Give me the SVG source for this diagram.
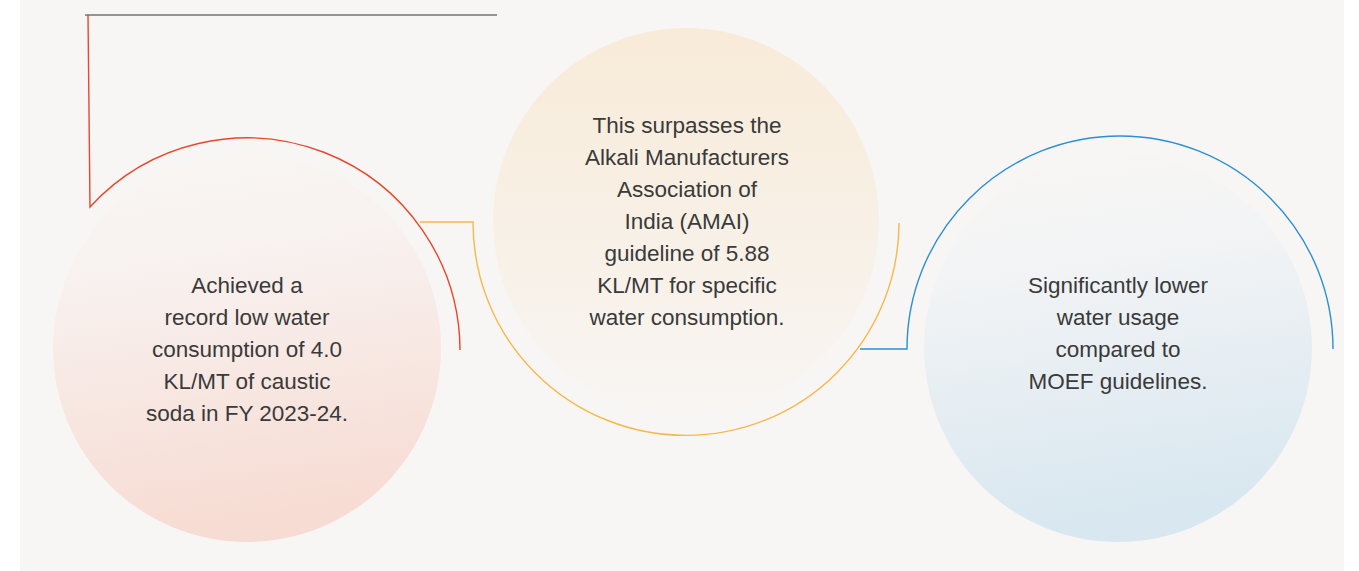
<svg xmlns="http://www.w3.org/2000/svg" width="1359" height="571" viewBox="0 0 1359 571">
<defs>
<linearGradient id="gRed" x1="0" y1="0" x2="0.15" y2="1"><stop offset="0" stop-color="#f8f6f4"/><stop offset="0.3" stop-color="#f8f2f0"/><stop offset="1" stop-color="#f7dcd3"/></linearGradient>
<linearGradient id="gOrg" x1="0" y1="0" x2="0" y2="1"><stop offset="0" stop-color="#f8ebd8"/><stop offset="1" stop-color="#f8f5f3"/></linearGradient>
<linearGradient id="gBlu" x1="0" y1="0" x2="0.15" y2="1"><stop offset="0" stop-color="#f8f6f4"/><stop offset="0.3" stop-color="#f3f4f5"/><stop offset="1" stop-color="#d8e7f0"/></linearGradient>
<style>
.t{font-family:"Liberation Sans",Arial,sans-serif;font-size:22.5px;fill:#3a3a3a;text-anchor:middle}
.c{fill:none;stroke-width:1.4}
</style>
</defs>
<rect x="0" y="0" width="1359" height="571" fill="#ffffff"/>
<rect x="20" y="0" width="1324" height="571" fill="#f8f6f4"/>
<g id="node-left">
<circle cx="247" cy="348" r="194" fill="url(#gRed)"/>
<text class="t"><tspan x="247" y="293">Achieved a</tspan><tspan x="247" y="325">record low water</tspan><tspan x="247" y="357">consumption of 4.0</tspan><tspan x="247" y="389">KL/MT of caustic</tspan><tspan x="247" y="421">soda in FY 2023-24.</tspan></text>
</g>
<g id="node-middle">
<circle cx="686" cy="221" r="193" fill="url(#gOrg)"/>
<text class="t"><tspan x="687" y="133">This surpasses the</tspan><tspan x="687" y="165">Alkali Manufacturers</tspan><tspan x="687" y="197">Association of</tspan><tspan x="687" y="229">India (AMAI)</tspan><tspan x="687" y="261">guideline of 5.88</tspan><tspan x="687" y="293">KL/MT for specific</tspan><tspan x="687" y="325">water consumption.</tspan></text>
</g>
<g id="node-right">
<circle cx="1118" cy="348" r="194" fill="url(#gBlu)"/>
<text class="t"><tspan x="1118" y="293">Significantly lower</tspan><tspan x="1118" y="325">water usage</tspan><tspan x="1118" y="357">compared to</tspan><tspan x="1118" y="389">MOEF guidelines.</tspan></text>
</g>
<g id="connectors">
<line x1="85" y1="15" x2="497" y2="15" stroke="#333" stroke-width="1.2"/>
<path class="c" stroke="#e8472a" d="M88 15 L90 207 A213 213 0 0 1 460 350"/>
<path class="c" stroke="#f6b84c" d="M420 222 L473 222 A213 213 0 0 0 899 223"/>
<path class="c" stroke="#2a8fd5" d="M860 349 L907 349 A213 213 0 0 1 1333 349"/>
</g>
</svg>
